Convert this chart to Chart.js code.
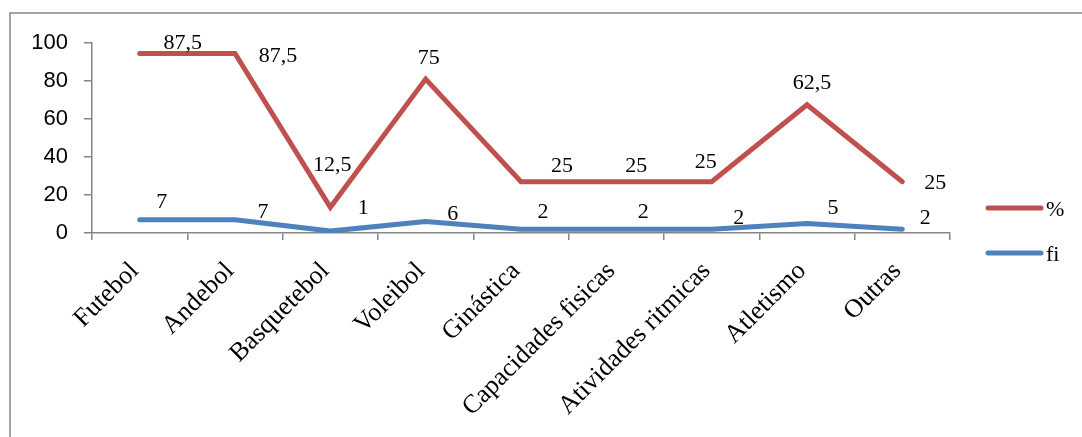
<!DOCTYPE html>
<html>
<head>
<meta charset="utf-8">
<script src="https://cdn.jsdelivr.net/npm/chart.js@4"></script>
<style>
  html, body { margin: 0; padding: 0; background: #ffffff; }
  #wrap { position: relative; width: 1082px; height: 437px; }
</style>
</head>
<body>
<div id="wrap"><canvas id="chart" width="1082" height="437"></canvas></div>
<script>
// Modalidades praticadas: frequência absoluta (fi) e percentagem (%)
const categories = ['Futebol', 'Andebol', 'Basquetebol', 'Voleibol', 'Ginástica',
  'Capacidades fisicas', 'Atividades ritmicas', 'Atletismo', 'Outras'];
const fiValues = [7, 7, 1, 6, 2, 2, 2, 5, 2];
const percentValues = [87.5, 87.5, 12.5, 75, 25, 25, 25, 62.5, 25];
const yTickValues = [0, 20, 40, 60, 80, 100];

const RED = '#C0504D';
const BLUE = '#4F81BD';
const AXIS = '#868686';
const SERIF = '"Liberation Serif", "Times New Roman", serif';
const SANS = '"Liberation Sans", Arial, sans-serif';

const fmt = v => String(v).replace('.', ',');

// Value labels, nudged individually around each point
const pointLabels = {
  id: 'pointLabels',
  afterDatasetsDraw(chart, args, opts) {
    const ctx = chart.ctx;
    ctx.save();
    ctx.font = '22px ' + SERIF;
    ctx.fillStyle = '#000';
    ctx.textAlign = 'center';
    ctx.textBaseline = 'middle';
    chart.data.datasets.forEach((ds, di) => {
      const meta = chart.getDatasetMeta(di);
      const nudges = opts.nudges[ds.label] || [];
      meta.data.forEach((pt, i) => {
        const n = nudges[i] || [0, 0];
        ctx.fillText(fmt(ds.data[i]), pt.x + n[0], pt.y + n[1]);
      });
    });
    ctx.restore();
  }
};

// Outer frame and the legend at the right
const frameAndLegend = {
  id: 'frameAndLegend',
  beforeDraw(chart) {
    const ctx = chart.ctx;
    ctx.save();
    ctx.strokeStyle = AXIS;
    ctx.lineWidth = 1.5;
    ctx.strokeRect(10, 13, 1200, 600);
    ctx.restore();
  },
  afterDraw(chart) {
    const ctx = chart.ctx;
    ctx.save();
    const items = [...chart.data.datasets].reverse();
    items.forEach((ds, k) => {
      const y = 208 + k * 45;
      ctx.strokeStyle = ds.borderColor;
      ctx.lineWidth = 5;
      ctx.lineCap = 'round';
      ctx.beginPath();
      ctx.moveTo(988, y);
      ctx.lineTo(1041, y);
      ctx.stroke();
      ctx.fillStyle = '#000';
      ctx.font = '22px ' + SERIF;
      ctx.textAlign = 'left';
      ctx.textBaseline = 'middle';
      ctx.fillText(ds.label, 1046, y + 2);
    });
    ctx.restore();
  }
};

new Chart(document.getElementById('chart'), {
  type: 'line',
  data: {
    labels: categories,
    datasets: [
      {
        label: 'fi',
        data: fiValues,
        borderColor: BLUE,
        backgroundColor: BLUE,
        borderWidth: 5,
        pointRadius: 0,
        tension: 0,
        fill: false,
        borderCapStyle: 'round',
        borderJoinStyle: 'round'
      },
      {
        label: '%',
        data: percentValues,
        borderColor: RED,
        backgroundColor: RED,
        borderWidth: 5,
        pointRadius: 0,
        tension: 0,
        fill: false,
        borderCapStyle: 'round',
        borderJoinStyle: 'miter'
      }
    ]
  },
  options: {
    responsive: false,
    animation: false,
    events: [],
    layout: { padding: { top: 43, right: 132, left: 0, bottom: 0 } },
    plugins: {
      legend: { display: false },
      tooltip: { enabled: false },
      pointLabels: {
        nudges: {
          '%': [[43, -10], [43, 3], [2, -42], [3, -21], [41, -15], [20, -15], [-6, -19], [5, -22], [33, 2]],
          'fi': [[22, -17], [28, -7], [33, -23], [27, -7], [22, -17], [27, -17], [27, -11], [26, -15], [23, -11]]
        }
      }
    },
    scales: {
      x: {
        offset: true,
        grid: {
          offset: true,
          drawOnChartArea: false,
          drawTicks: true,
          tickLength: 7,
          color: AXIS,
          lineWidth: 1.5
        },
        border: { display: true, color: AXIS, width: 1.5 },
        ticks: {
          autoSkip: false,
          minRotation: 45,
          maxRotation: 45,
          padding: 16,
          labelOffset: -5,
          color: '#000',
          font: { family: SERIF, size: 26 }
        },
        afterFit(scale) { scale.height = 204; }
      },
      y: {
        stacked: true,
        min: 0,
        max: 100,
        afterBuildTicks(scale) { scale.ticks = yTickValues.map(v => ({ value: v })); },
        grid: {
          drawOnChartArea: false,
          drawTicks: true,
          tickLength: 8,
          color: AXIS,
          lineWidth: 1.5
        },
        border: { display: true, color: AXIS, width: 1.5 },
        ticks: {
          padding: 16,
          color: '#000',
          font: { family: SANS, size: 22 }
        },
        afterFit(scale) { scale.width = 92; }
      }
    }
  },
  plugins: [pointLabels, frameAndLegend]
});
</script>
</body>
</html>
